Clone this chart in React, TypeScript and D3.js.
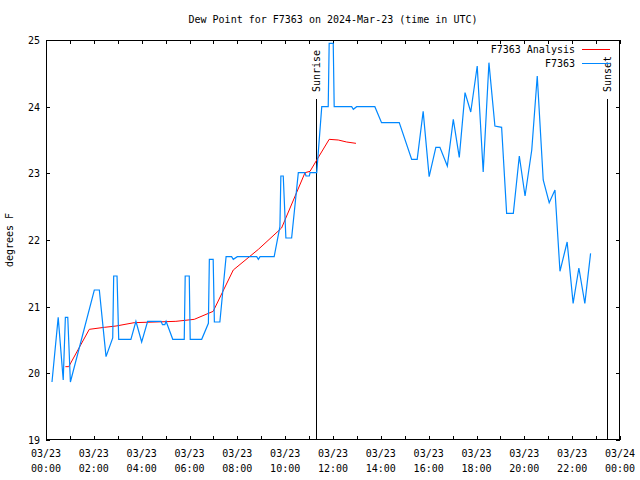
import React from "react";
import * as d3 from "d3";

const title = "Dew Point for F7363 on 2024-Mar-23 (time in UTC)";
const yLabel = "degrees F";
const yTicks = [19, 20, 21, 22, 23, 24, 25];
const xTickHours = d3.range(0, 25, 1);
const xLabelHours = d3.range(0, 25, 2);
const sunriseHour = 11.29;
const sunsetHour = 23.47;

// F7363 observations: hour of day (UTC), dew point (F)
const obsHours = [
  0.25, 0.51, 0.72, 0.81, 0.91, 1.02, 2.02, 2.23, 2.51, 2.79, 2.83, 2.97, 3.04, 3.55, 3.76, 4.0,
  4.25, 4.81, 4.87, 4.97, 5.02, 5.3, 5.78, 5.82, 5.99, 6.03, 6.51, 6.79, 6.83, 6.99, 7.04, 7.27,
  7.53, 7.76, 7.83, 8.0, 8.81, 8.88, 8.95, 9.54, 9.78, 9.82, 9.92, 10.03, 10.27, 10.55, 10.83,
  10.87, 11.01, 11.04, 11.32, 11.53, 11.8, 11.84, 12.01, 12.05, 12.78, 12.85, 12.99, 13.75,
  14.03, 14.77, 15.29, 15.52, 15.77, 16.02, 16.3, 16.47, 16.78, 17.03, 17.28, 17.52, 17.76,
  18.03, 18.28, 18.52, 18.77, 19.05, 19.26, 19.54, 19.79, 20.03, 20.31, 20.54, 20.79, 21.04,
  21.28, 21.49, 21.79, 22.04, 22.28, 22.53, 22.77,
];
const obsValues = [
  19.87, 20.84, 19.9, 20.84, 20.84, 19.87, 21.25, 21.25, 20.25, 20.53, 21.46, 21.46, 20.51, 20.51,
  20.78, 20.47, 20.78, 20.78, 20.73, 20.73, 20.78, 20.51, 20.51, 21.46, 21.46, 20.51, 20.51,
  20.75, 21.71, 21.71, 20.77, 20.77, 21.75, 21.75, 21.71, 21.75, 21.75, 21.71, 21.75, 21.75,
  22.2, 22.96, 22.96, 22.03, 22.03, 23.01, 23.01, 22.96, 22.96, 23.01, 23.01, 24.0, 24.0, 24.95,
  24.95, 24.0, 24.0, 23.96, 24.0, 24.0, 23.76, 23.76, 23.21, 23.21, 23.93, 22.95, 23.39, 23.39,
  23.11, 23.81, 23.24, 24.21, 23.92, 24.61, 23.02, 24.66, 23.71, 23.69, 22.4, 22.4, 23.26, 22.66,
  23.35, 24.46, 22.9, 22.56, 22.75, 21.53, 21.97, 21.05, 21.58, 21.05, 21.8,
];

// F7363 Analysis
const anaHours = [
  0.81, 0.95, 1.81, 2.44, 2.93, 3.69, 5.43, 6.2, 6.99, 7.83, 8.88, 9.85, 10.83, 11.04, 11.32,
  11.84, 12.22, 12.57, 12.96,
];
const anaValues = [
  20.1, 20.1, 20.66, 20.69, 20.71, 20.76, 20.78, 20.81, 20.93, 21.55, 21.86, 22.18, 23.01, 23.03,
  23.2, 23.51, 23.5, 23.47, 23.45,
];

const W = 640;
const H = 480;
const L = 46;
const R = 620;
const T = 40;
const B = 440;
const font = "'DejaVu Sans Mono', 'Liberation Mono', monospace";
const blue = "#0088ff";
const red = "#ff0000";

export default function App() {
  const x = d3.scaleLinear().domain([0, 24]).range([L, R]);
  const y = d3.scaleLinear().domain([19, 25]).range([B, T]);
  const mk = d3
    .line<[number, number]>()
    .x((d) => x(d[0]))
    .y((d) => y(d[1]));
  const obsPath = mk(obsHours.map((h, i) => [h, obsValues[i]] as [number, number]));
  const anaPath = mk(anaHours.map((h, i) => [h, anaValues[i]] as [number, number]));
  const pad = (n: number) => String(n % 24).padStart(2, "0") + ":00";
  const dateOf = (h: number) => (h >= 24 ? "03/24" : "03/23");
  const tick = 4;
  const px = (v: number) => Math.round(v) + 0.5;

  return (
    <svg
      width={W}
      height={H}
      style={{ position: "absolute", left: 0, top: 0, background: "#fff" }}
      fontFamily={font}
      fontSize={10}
    >
      <rect x={0} y={0} width={W} height={H} fill="#fff" />
      <text x={(L + R) / 2} y={23} textAnchor="middle" fill="#000">
        {title}
      </text>
      <text
        transform={`translate(13,${(T + B) / 2}) rotate(-90)`}
        textAnchor="middle"
        fill="#000"
      >
        {yLabel}
      </text>
      <g shapeRendering="crispEdges" stroke="#000" strokeWidth={1}>
        {yTicks.map((v) => (
          <g key={v}>
            <line x1={L} x2={L + tick} y1={px(y(v))} y2={px(y(v))} />
            <line x1={R - tick} x2={R} y1={px(y(v))} y2={px(y(v))} />
          </g>
        ))}
        {xTickHours.map((h) => (
          <g key={h}>
            <line x1={px(x(h))} x2={px(x(h))} y1={B} y2={B - tick} />
            <line x1={px(x(h))} x2={px(x(h))} y1={T} y2={T + tick} />
          </g>
        ))}
      </g>
      {yTicks.map((v) => (
        <text key={v} x={L - 6} y={y(v) + 4} textAnchor="end" fill="#000">
          {v}
        </text>
      ))}
      {xLabelHours.map((h) => (
        <g key={h}>
          <text x={x(h)} y={457} textAnchor="middle" fill="#000">
            {dateOf(h)}
          </text>
          <text x={x(h)} y={472} textAnchor="middle" fill="#000">
            {pad(h)}
          </text>
        </g>
      ))}
      <g shapeRendering="crispEdges" stroke="#000" strokeWidth={1}>
        <line x1={px(x(sunriseHour))} x2={px(x(sunriseHour))} y1={99} y2={B} />
        <line x1={px(x(sunsetHour))} x2={px(x(sunsetHour))} y1={99} y2={B} />
      </g>
      <text
        transform={`translate(${x(sunriseHour) + 4},92) rotate(-90)`}
        textAnchor="start"
        fill="#000"
      >
        Sunrise
      </text>
      <text
        transform={`translate(${x(sunsetHour) + 4},92) rotate(-90)`}
        textAnchor="start"
        fill="#000"
      >
        Sunset
      </text>
      <path d={anaPath ?? ""} fill="none" stroke={red} strokeWidth={1} />
      <path d={obsPath ?? ""} fill="none" stroke={blue} strokeWidth={1.2} />
      <g>
        <text x={575} y={53} textAnchor="end" fill="#000">
          F7363 Analysis
        </text>
        <rect x={582} y={49} width={28} height={1} fill={red} />
        <text x={575} y={67} textAnchor="end" fill="#000">
          F7363
        </text>
        <rect x={582} y={63} width={28} height={1} fill={blue} />
      </g>
      <rect
        x={L + 0.5}
        y={T + 0.5}
        width={R - L - 1}
        height={B - T - 1}
        fill="none"
        stroke="#000"
        shapeRendering="crispEdges"
      />
    </svg>
  );
}
